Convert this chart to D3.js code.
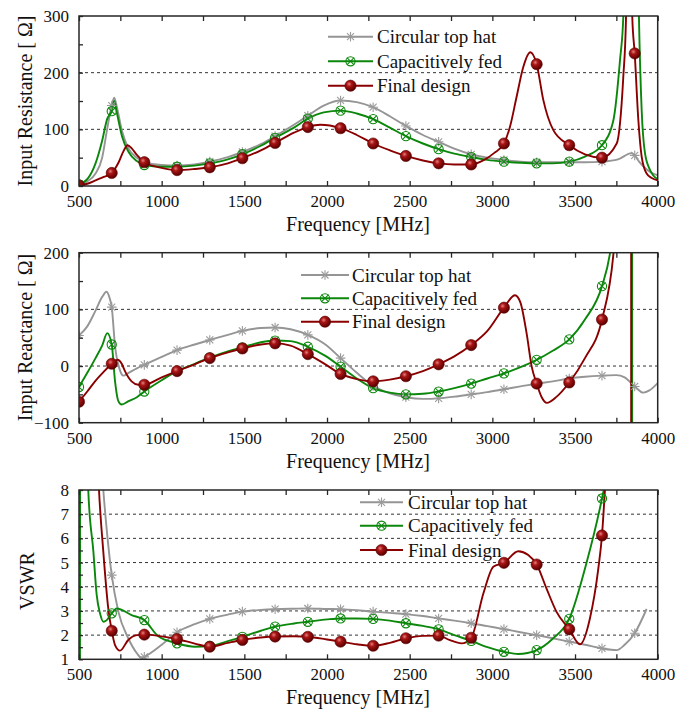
<!DOCTYPE html>
<html>
<head>
<meta charset="utf-8">
<script src="https://cdn.jsdelivr.net/npm/d3@7"></script>
<style>
  body { margin: 0; background: #fff; }
  svg { display: block; }
  text { font-family: "Liberation Serif", "Times New Roman", serif; fill: #111; }
</style>
</head>
<body>
<svg id="chart" width="689" height="710"></svg>
<script>
// ---- data -------------------------------------------------------------
const seriesNames = ["Circular top hat", "Capacitively fed", "Final design"];
const xMajorTicks = [500, 1000, 1500, 2000, 2500, 3000, 3500, 4000];
const xMinorTicks = [750, 1250, 1750, 2250, 2750, 3250, 3750];
const xTitle = "Frequency [MHz]";

// frequencies (MHz) at which symbols are placed on every curve
const markerFreqs = [500, 698, 895, 1093, 1291, 1488, 1686, 1884, 2082, 2279, 2477, 2675, 2872, 3070, 3268, 3465, 3663, 3861];

// Input resistance [Ohm]
const resTopHat = [[500,3],[550,8],[600,22],[640,50],[670,100],[698,142],[713,156],[730,138],[760,97],[800,66],[850,50],[895,42],[1000,37],[1093,36],[1200,38],[1291,43],[1400,51],[1488,60],[1600,74],[1686,88],[1800,108],[1884,124],[1980,142],[2082,151],[2180,148],[2279,139],[2380,123],[2477,106],[2580,90],[2675,78],[2770,66],[2872,56],[2970,50],[3070,46],[3170,43],[3268,42],[3365,42],[3465,42],[3560,42],[3663,43],[3760,47],[3842,58],[3861,54],[3890,42],[3930,30],[3965,23],[4000,19]];
const resCapFed = [[500,3],[550,12],[600,40],[640,80],[670,118],[698,132],[713,150],[730,128],[760,88],[800,60],[850,44],[895,37],[1000,34],[1093,34],[1200,36],[1291,40],[1400,47],[1488,56],[1600,71],[1686,85],[1800,103],[1884,119],[1980,130],[2082,133],[2180,128],[2279,118],[2380,103],[2477,88],[2580,75],[2675,65],[2770,57],[2872,51],[2970,46],[3070,43],[3170,41],[3268,40],[3365,40],[3465,43],[3560,52],[3663,72],[3732,116],[3772,222],[3792,299],[3815,700],[3840,1500],[3861,900],[3887,293],[3903,134],[3923,58],[3954,28],[4000,12]];
const resFinal = [[500,1],[550,4],[600,10],[650,16],[698,23],[740,42],[770,62],[794,72],[820,66],[850,55],[895,42],[1000,32],[1093,28],[1200,30],[1291,33],[1400,40],[1488,49],[1600,63],[1686,76],[1800,94],[1884,104],[1960,108],[2082,102],[2180,90],[2279,75],[2380,63],[2477,53],[2580,45],[2675,40],[2770,38],[2872,38],[2950,46],[3010,58],[3070,75],[3107,105],[3147,158],[3187,210],[3229,236],[3268,215],[3308,152],[3368,99],[3465,72],[3560,56],[3663,50],[3752,75],[3792,193],[3808,293],[3828,900],[3846,300],[3861,234],[3883,116],[3903,52],[3933,22],[3964,14],[4000,10]];

// Input reactance [Ohm]
const reacTopHat = [[500,54],[550,70],[597,96],[640,122],[667,131],[685,120],[698,104],[718,35],[745,-5],[768,-17],[800,-12],[850,-4],[895,2],[1000,16],[1093,28],[1200,38],[1291,46],[1400,55],[1488,62],[1600,67],[1686,68],[1780,65],[1884,55],[1990,38],[2082,14],[2180,-12],[2279,-35],[2380,-48],[2477,-55],[2580,-58],[2675,-57],[2770,-54],[2872,-50],[2970,-46],[3070,-41],[3170,-36],[3268,-31],[3365,-27],[3465,-22],[3560,-19],[3663,-17],[3750,-16],[3800,-20],[3861,-36],[3913,-47],[3950,-43],[4000,-30]];
const reacCapFed = [[500,-37],[550,-12],[600,14],[640,36],[671,58],[698,38],[718,-27],[738,-62],[758,-68],[800,-62],[850,-55],[895,-45],[1000,-25],[1093,-9],[1200,4],[1291,15],[1400,26],[1488,33],[1600,42],[1686,45],[1780,44],[1884,34],[1990,18],[2082,-1],[2180,-22],[2279,-39],[2380,-47],[2477,-50],[2580,-49],[2675,-45],[2770,-39],[2872,-31],[2970,-22],[3070,-13],[3170,-2],[3268,11],[3365,27],[3465,47],[3560,82],[3663,141],[3712,200],[3780,400],[3830,1200],[3845,6000],[3846,-6000],[3861,-1500],[3920,-600],[4000,-400]];
const reacFinal = [[500,-63],[550,-45],[597,-27],[650,-10],[698,4],[734,11],[760,3],[778,-9],[818,-27],[859,-33],[895,-33],[1000,-20],[1093,-9],[1200,3],[1291,14],[1400,24],[1488,31],[1600,38],[1686,40],[1780,36],[1884,21],[1990,3],[2082,-14],[2180,-23],[2279,-27],[2380,-24],[2477,-18],[2580,-9],[2675,3],[2770,17],[2872,37],[2970,62],[3070,103],[3137,125],[3170,112],[3207,58],[3238,-1],[3268,-31],[3300,-56],[3329,-65],[3389,-54],[3465,-29],[3560,14],[3663,82],[3733,200],[3790,450],[3825,1500],[3839,6000],[3840,-6000],[3861,-1500],[3920,-600],[4000,-400]];

// VSWR
const vswrTopHat = [[500,40],[580,18],[620,11],[647,8],[670,6.2],[698,4.48],[738,2.97],[798,1.87],[850,1.25],[879,1.05],[895,1.1],[1000,1.6],[1093,2.12],[1200,2.45],[1291,2.67],[1400,2.85],[1488,2.97],[1600,3.04],[1686,3.07],[1800,3.09],[1884,3.1],[2000,3.08],[2082,3.07],[2180,3.03],[2279,2.97],[2380,2.92],[2477,2.87],[2580,2.79],[2675,2.69],[2770,2.6],[2872,2.49],[2970,2.37],[3070,2.25],[3170,2.12],[3268,2.0],[3365,1.87],[3465,1.73],[3560,1.6],[3663,1.45],[3752,1.38],[3800,1.6],[3861,2.08],[3933,3.08]];
const vswrCapFed = [[506,0.3],[511,60],[530,20],[556,8],[587,5.45],[607,3.66],[627,2.9],[647,2.55],[668,2.62],[698,2.9],[728,3.1],[818,2.83],[895,2.62],[980,1.95],[1093,1.66],[1200,1.52],[1291,1.55],[1400,1.75],[1488,1.93],[1600,2.18],[1686,2.35],[1800,2.48],[1884,2.55],[2000,2.65],[2082,2.69],[2180,2.69],[2279,2.67],[2380,2.6],[2477,2.49],[2580,2.38],[2675,2.24],[2770,2.0],[2872,1.76],[2970,1.5],[3070,1.31],[3157,1.22],[3268,1.38],[3365,1.85],[3465,2.67],[3570,5.0],[3663,7.65],[3690,8.6],[3720,10]];
const vswrFinal = [[500,60],[580,16],[621,8],[647,5.45],[677,3.1],[698,2.18],[718,1.59],[748,1.36],[798,1.8],[849,2.0],[895,2.02],[1000,1.95],[1093,1.84],[1200,1.65],[1291,1.52],[1400,1.68],[1488,1.8],[1600,1.9],[1686,1.94],[1800,1.95],[1884,1.93],[2000,1.82],[2082,1.73],[2180,1.62],[2279,1.56],[2380,1.68],[2477,1.87],[2580,1.97],[2675,1.98],[2740,1.8],[2814,1.66],[2872,1.89],[2946,3.73],[3006,4.83],[3070,4.99],[3157,5.47],[3217,5.31],[3268,4.92],[3329,3.9],[3389,2.95],[3465,2.24],[3530,1.62],[3590,2.69],[3641,4.76],[3663,6.12],[3681,8],[3710,11]];

const resTicks = [0, 100, 200, 300];
const resMinor = [50, 150, 250];
const reacTicks = [-100, 0, 100, 200];
const reacMinor = [-50, 50, 150];
const vswrTicks = [1, 2, 3, 4, 5, 6, 7, 8];
const vswrMinor = [1.5, 2.5, 3.5, 4.5, 5.5, 6.5, 7.5];

// ---- styling / layout -------------------------------------------------
const colors = ["#959595", "#0b870b", "#8a0000"];
const serif = "'Liberation Serif', 'Times New Roman', serif";
const plotLeft = 79, plotRight = 657.7;

const panels = [
  { id: "res", top: 16, bottom: 186, domain: [0, 300], ticks: resTicks, minor: resMinor, grid: [100, 200],
    title: "Input Resistance [ \u03A9]", titleX: 32, titleY: 101,
    series: [resTopHat, resCapFed, resFinal],
    legend: { x1: 328, x2: 373, tx: 377, rows: [36.7, 61.3, 85.7] } },
  { id: "reac", top: 252.7, bottom: 422.7, domain: [-100, 200], ticks: reacTicks, minor: reacMinor, grid: [0, 100],
    title: "Input Reactance [ \u03A9]", titleX: 32, titleY: 337.5,
    series: [reacTopHat, reacCapFed, reacFinal],
    legend: { x1: 301, x2: 349, tx: 352, rows: [275, 298.3, 321.7] } },
  { id: "vswr", top: 490, bottom: 659.3, domain: [1, 8], ticks: vswrTicks, minor: vswrMinor, grid: [2, 3, 4, 5, 6, 7],
    title: "VSWR", titleX: 34, titleY: 581,
    series: [vswrTopHat, vswrCapFed, vswrFinal],
    legend: { x1: 360, x2: 403, tx: 408, rows: [502.3, 525.7, 550] } }
];

const svg = d3.select("#chart");
const defs = svg.append("defs");

// shaded ball used for the "Final design" symbols
const grad = defs.append("radialGradient").attr("id", "ball")
  .attr("cx", "38%").attr("cy", "35%").attr("r", "65%");
grad.append("stop").attr("offset", "0%").attr("stop-color", "#e48080");
grad.append("stop").attr("offset", "35%").attr("stop-color", "#a81414");
grad.append("stop").attr("offset", "100%").attr("stop-color", "#5a0000");

const x = d3.scaleLinear().domain([500, 4000]).range([plotLeft, plotRight]);

function drawMarker(g, kind, cx, cy) {
  const m = g.append("g").attr("transform", `translate(${cx},${cy})`);
  if (kind === 0) {
    const s = 4.8, d = 3.5;
    [[-s,0,s,0],[0,-s,0,s],[-d,-d,d,d],[-d,d,d,-d]].forEach(l =>
      m.append("line").attr("x1", l[0]).attr("y1", l[1]).attr("x2", l[2]).attr("y2", l[3])
        .attr("stroke", "#9a9a9a").attr("stroke-width", 1.1));
  } else if (kind === 1) {
    m.append("circle").attr("r", 4.6).attr("fill", "none").attr("stroke", colors[1]).attr("stroke-width", 1.1);
    const s = 3.6;
    [[-s,-s,s,s],[-s,s,s,-s]].forEach(l =>
      m.append("line").attr("x1", l[0]).attr("y1", l[1]).attr("x2", l[2]).attr("y2", l[3])
        .attr("stroke", colors[1]).attr("stroke-width", 1.1));
  } else {
    m.append("circle").attr("r", 5.6).attr("fill", "url(#ball)")
      .attr("stroke", "#5a0000").attr("stroke-width", 0.6);
  }
}

panels.forEach(p => {
  const y = d3.scaleLinear().domain(p.domain).range([p.bottom, p.top]);
  const g = svg.append("g");

  defs.append("clipPath").attr("id", "clip-" + p.id)
    .append("rect").attr("x", plotLeft).attr("y", p.top)
    .attr("width", plotRight - plotLeft).attr("height", p.bottom - p.top);

  // dashed reference lines
  g.append("g").selectAll("line").data(p.grid).join("line")
    .attr("x1", plotLeft).attr("x2", plotRight)
    .attr("y1", d => y(d)).attr("y2", d => y(d))
    .attr("stroke", "#333").attr("stroke-width", 1).attr("stroke-dasharray", "3,3");

  // curves and symbols
  const plot = g.append("g").attr("clip-path", `url(#clip-${p.id})`);
  const line = d3.line().x(d => x(d[0])).y(d => y(d[1])).curve(d3.curveMonotoneX);
  p.series.forEach((s, i) => {
    plot.append("path").datum(s).attr("d", line)
      .attr("fill", "none").attr("stroke", colors[i]).attr("stroke-width", 1.9)
      .attr("stroke-linejoin", "round");
  });
  p.series.forEach((s, i) => {
    s.filter(d => markerFreqs.includes(d[0]) && d[1] >= p.domain[0] - 0.2 && d[1] <= p.domain[1] + 0.2)
      .forEach(d => drawMarker(plot, i, x(d[0]), y(d[1])));
  });

  // frame
  g.append("rect").attr("x", plotLeft).attr("y", p.top)
    .attr("width", plotRight - plotLeft).attr("height", p.bottom - p.top)
    .attr("fill", "none").attr("stroke", "#262626").attr("stroke-width", 1.5);

  // axes (ticks point inward)
  const styleAxis = sel => {
    sel.attr("font-family", serif).attr("font-size", 17);
    sel.select(".domain").remove();
    sel.selectAll(".tick line").attr("stroke", "#262626").attr("stroke-width", 1.3);
    sel.selectAll("text").style("font-size", "17px").style("font-family", serif).attr("fill", "#111");
  };
  g.append("g").attr("transform", `translate(0,${p.bottom})`)
    .call(d3.axisBottom(x).tickValues(xMajorTicks).tickSize(-5).tickPadding(9).tickFormat(d3.format("d")))
    .call(styleAxis);
  g.append("g").attr("transform", `translate(0,${p.bottom})`)
    .call(d3.axisBottom(x).tickValues(xMinorTicks).tickSize(-5).tickFormat(""))
    .call(styleAxis);
  g.append("g").attr("transform", `translate(0,${p.top})`)
    .call(d3.axisTop(x).tickValues(xMajorTicks.concat(xMinorTicks)).tickSize(-5).tickFormat(""))
    .call(styleAxis);
  g.append("g").attr("transform", `translate(${plotLeft},0)`)
    .call(d3.axisLeft(y).tickValues(p.ticks).tickSize(-4).tickPadding(10).tickFormat(d3.format("d")))
    .call(styleAxis);
  g.append("g").attr("transform", `translate(${plotLeft},0)`)
    .call(d3.axisLeft(y).tickValues(p.minor).tickSize(-4).tickFormat(""))
    .call(styleAxis);

  // titles
  g.append("text").attr("x", 358).attr("y", p.bottom + 45)
    .attr("text-anchor", "middle").style("font-size", "20px").text(xTitle);
  g.append("text").attr("transform", `translate(${p.titleX},${p.titleY}) rotate(-90)`)
    .attr("text-anchor", "middle").style("font-size", "20px").text(p.title);

  // legend
  const L = p.legend;
  seriesNames.forEach((name, i) => {
    const ly = L.rows[i];
    g.append("line").attr("x1", L.x1).attr("x2", L.x2).attr("y1", ly).attr("y2", ly)
      .attr("stroke", colors[i]).attr("stroke-width", 1.9);
    drawMarker(g, i, (L.x1 + L.x2) / 2, ly);
    g.append("text").attr("x", L.tx).attr("y", ly + 6.5).style("font-size", "19px").text(name);
  });
});
</script>
</body>
</html>
